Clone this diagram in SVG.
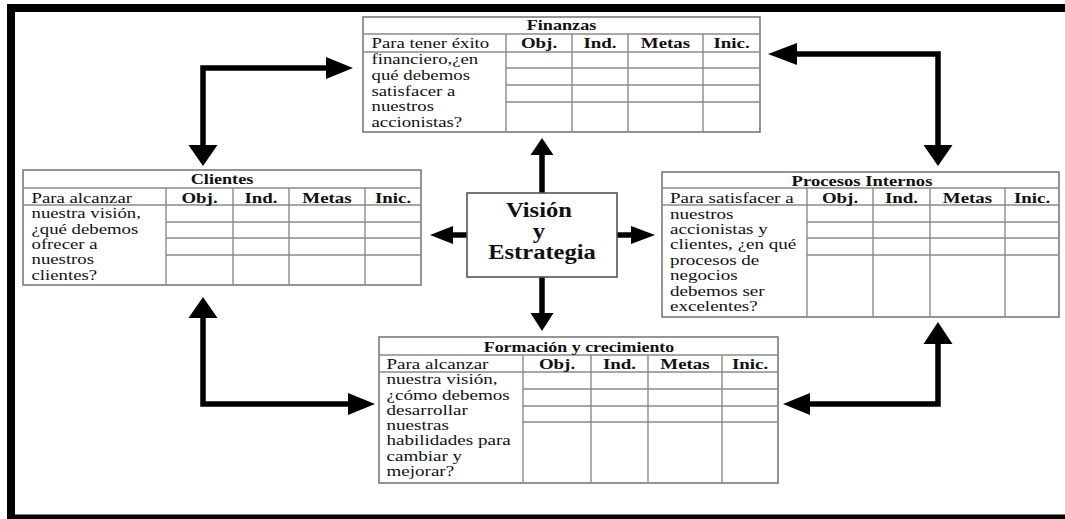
<svg xmlns="http://www.w3.org/2000/svg" width="1065" height="519" viewBox="0 0 1065 519">
  <style>
    .frame { fill: #000; }
    .box { fill: #fff; stroke: #7a7a7a; stroke-width: 1.6; }
    .grid { stroke: #8a8a8a; stroke-width: 1.4; fill: none; }
    .q { font-family: "Liberation Serif", "Times New Roman", serif; font-size: 14px; fill: #111; }
    .h { font-family: "Liberation Serif", "Times New Roman", serif; font-size: 14px; font-weight: bold; fill: #111; text-anchor: middle; }
    .center { font-family: "Liberation Serif", "Times New Roman", serif; font-size: 21px; font-weight: bold; fill: #111; text-anchor: middle; }
    .shaft { stroke: #000; stroke-width: 5.5; fill: none; stroke-linejoin: miter; }
    .head { fill: #000; }
    .cbox { fill: #fff; stroke: #555; stroke-width: 1.6; }
  </style>

  <rect width="1065" height="519" fill="#fff"/>

  <!-- outer frame: top, left and bottom bars -->
  <g id="frame">
    <rect class="frame" x="7" y="4" width="1058" height="8"/>
    <rect class="frame" x="7" y="4" width="8" height="515"/>
    <rect class="frame" x="7" y="514.5" width="1058" height="4.5"/>
  </g>

  <!-- connectors -->
  <g id="connectors">
    <!-- centre to each perspective -->
    <line class="shaft" x1="542" y1="193" x2="542" y2="154"/>
    <polygon class="head" points="530.5,155 553.5,155 542,138"/>
    <line class="shaft" x1="542" y1="277" x2="542" y2="314"/>
    <polygon class="head" points="530.5,313 553.5,313 542,331"/>
    <line class="shaft" x1="467" y1="235" x2="452" y2="235"/>
    <polygon class="head" points="453,226 453,244 430,235"/>
    <line class="shaft" x1="617" y1="235" x2="632" y2="235"/>
    <polygon class="head" points="631,226 631,244 655,235"/>

    <!-- Clientes <-> Finanzas -->
    <path class="shaft" d="M203,146 V68 H327"/>
    <polygon class="head" points="188.5,145 217.5,145 203,166"/>
    <polygon class="head" points="326,57 326,79 353,68"/>

    <!-- Finanzas <-> Procesos Internos -->
    <path class="shaft" d="M796,54 H938 V146"/>
    <polygon class="head" points="797,43 797,65 768,54"/>
    <polygon class="head" points="923.5,145 952.5,145 938,166"/>

    <!-- Clientes <-> Formación y crecimiento -->
    <path class="shaft" d="M203,317 V404 H349"/>
    <polygon class="head" points="188.5,318 217.5,318 203,297"/>
    <polygon class="head" points="348,393 348,415 375,404"/>

    <!-- Procesos Internos <-> Formación y crecimiento -->
    <path class="shaft" d="M809,404 H938 V343"/>
    <polygon class="head" points="810,393 810,415 783,404"/>
    <polygon class="head" points="923.5,344 952.5,344 938,322"/>
  </g>

  <!-- Finanzas -->
  <g id="finanzas">
    <rect class="box" x="363" y="17" width="397" height="115"/>
    <path class="grid" d="M363,34 H760 M363,52 H760 M506,68 H760 M506,85 H760 M506,102 H760 M506,34 V132 M572,34 V132 M628,34 V132 M703,34 V132"/>
    <text class="h" transform="translate(561.5,0) scale(1.3,1)" x="0" y="30.5">Finanzas</text>
    <text class="h" transform="translate(539,0) scale(1.35,1)" x="0" y="48.3">Obj.</text>
    <text class="h" transform="translate(600,0) scale(1.35,1)" x="0" y="48.3">Ind.</text>
    <text class="h" transform="translate(665.5,0) scale(1.35,1)" x="0" y="48.3">Metas</text>
    <text class="h" transform="translate(731.5,0) scale(1.35,1)" x="0" y="48.3">Inic.</text>
    <text class="q" transform="translate(371.5,0) scale(1.34,1)">
      <tspan x="0" y="48.5">Para tener éxito</tspan>
      <tspan x="0" y="64.5">financiero,¿en</tspan>
      <tspan x="0" y="80.5">qué debemos</tspan>
      <tspan x="0" y="96.5">satisfacer a</tspan>
      <tspan x="0" y="111.5">nuestros</tspan>
      <tspan x="0" y="127">accionistas?</tspan>
    </text>
  </g>

  <!-- Clientes -->
  <g id="clientes">
    <rect class="box" x="23" y="170" width="398" height="115"/>
    <path class="grid" d="M23,188 H421 M23,205 H421 M166,222 H421 M166,238 H421 M166,255 H421 M166,188 V285 M233,188 V285 M289,188 V285 M365,188 V285"/>
    <text class="h" transform="translate(222,0) scale(1.3,1)" x="0" y="184">Clientes</text>
    <text class="h" transform="translate(199.5,0) scale(1.35,1)" x="0" y="202.7">Obj.</text>
    <text class="h" transform="translate(261,0) scale(1.35,1)" x="0" y="202.7">Ind.</text>
    <text class="h" transform="translate(327,0) scale(1.35,1)" x="0" y="202.7">Metas</text>
    <text class="h" transform="translate(393,0) scale(1.35,1)" x="0" y="202.7">Inic.</text>
    <text class="q" transform="translate(31.5,0) scale(1.34,1)">
      <tspan x="0" y="203">Para alcanzar</tspan>
      <tspan x="0" y="218.5">nuestra visión,</tspan>
      <tspan x="0" y="234">¿qué debemos</tspan>
      <tspan x="0" y="249">ofrecer a</tspan>
      <tspan x="0" y="264.5">nuestros</tspan>
      <tspan x="0" y="280">clientes?</tspan>
    </text>
  </g>

  <!-- Procesos Internos -->
  <g id="procesos-internos">
    <rect class="box" x="662" y="172" width="397" height="145"/>
    <path class="grid" d="M662,188 H1059 M662,205 H1059 M807,222 H1059 M807,238 H1059 M807,255 H1059 M807,188 V317 M873,188 V317 M930,188 V317 M1005,188 V317"/>
    <text class="h" transform="translate(862,0) scale(1.33,1)" x="0" y="185.7">Procesos Internos</text>
    <text class="h" transform="translate(840,0) scale(1.35,1)" x="0" y="202.7">Obj.</text>
    <text class="h" transform="translate(901.5,0) scale(1.35,1)" x="0" y="202.7">Ind.</text>
    <text class="h" transform="translate(967.5,0) scale(1.35,1)" x="0" y="202.7">Metas</text>
    <text class="h" transform="translate(1032,0) scale(1.35,1)" x="0" y="202.7">Inic.</text>
    <text class="q" transform="translate(670,0) scale(1.36,1)">
      <tspan x="0" y="203">Para satisfacer a</tspan>
      <tspan x="0" y="218.5">nuestros</tspan>
      <tspan x="0" y="234">accionistas y</tspan>
      <tspan x="0" y="249.5">clientes, ¿en qué</tspan>
      <tspan x="0" y="265">procesos de</tspan>
      <tspan x="0" y="280.5">negocios</tspan>
      <tspan x="0" y="296">debemos ser</tspan>
      <tspan x="0" y="311.5">excelentes?</tspan>
    </text>
  </g>

  <!-- Formación y crecimiento -->
  <g id="formacion">
    <rect class="box" x="379" y="337" width="399" height="146"/>
    <path class="grid" d="M379,355 H778 M379,372 H778 M523,389 H778 M523,406 H778 M523,422 H778 M523,355 V483 M591,355 V483 M648,355 V483 M722,355 V483"/>
    <text class="h" transform="translate(579,0) scale(1.28,1)" x="0" y="351.7">Formación y crecimiento</text>
    <text class="h" transform="translate(557,0) scale(1.35,1)" x="0" y="369">Obj.</text>
    <text class="h" transform="translate(619.5,0) scale(1.35,1)" x="0" y="369">Ind.</text>
    <text class="h" transform="translate(685,0) scale(1.35,1)" x="0" y="369">Metas</text>
    <text class="h" transform="translate(750,0) scale(1.35,1)" x="0" y="369">Inic.</text>
    <text class="q" transform="translate(386.5,0) scale(1.36,1)">
      <tspan x="0" y="369">Para alcanzar</tspan>
      <tspan x="0" y="384.5">nuestra visión,</tspan>
      <tspan x="0" y="400">¿cómo debemos</tspan>
      <tspan x="0" y="415">desarrollar</tspan>
      <tspan x="0" y="430.5">nuestras</tspan>
      <tspan x="0" y="445.5">habilidades para</tspan>
      <tspan x="0" y="461">cambiar y</tspan>
      <tspan x="0" y="476.5">mejorar?</tspan>
    </text>
  </g>

  <!-- Visión y Estrategia -->
  <g id="vision-estrategia">
    <rect class="cbox" x="467" y="193" width="150" height="84"/>
    <text class="center" transform="translate(542,0) scale(1.17,1)">
      <tspan x="0" y="217">Visión</tspan>
      <tspan x="0" y="238">y</tspan>
      <tspan x="0" y="259.5">Estrategia</tspan>
    </text>
  </g>
</svg>
